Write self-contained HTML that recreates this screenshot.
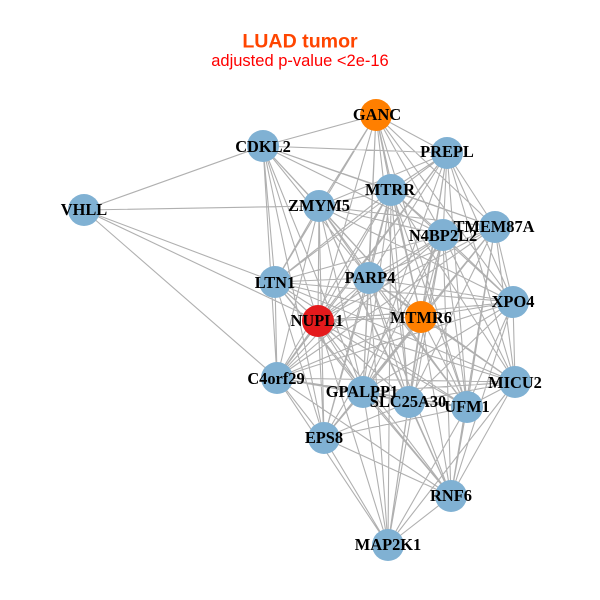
<!DOCTYPE html>
<html><head><meta charset="utf-8"><title>LUAD tumor</title>
<style>html,body{margin:0;padding:0;background:#fff}svg{display:block}
.l{font:bold 16.4px "Liberation Serif",serif;text-anchor:middle;fill:#000}
</style></head><body>
<svg width="600" height="600" viewBox="0 0 600 600" xmlns="http://www.w3.org/2000/svg">
<rect width="600" height="600" fill="#fff"/>
<path fill="none" stroke="#b0b0b0" stroke-width="1.1" d="
M84 210L263 146M84 210L319 206M84 210L275 282M84 210L318 321M84 210L277 378
M376 115L263 146M376 115L447 153M376 115L319 206M376 115L391 190M376 115L443 235M376 115L495 227M376 115L275 282M376 115L369 278M376 115L421 317M376 115L318 321M376 115L409 402M376 115L363 392M376 115L467 407M376 115L513 302
M263 146L447 153M263 146L391 190M263 146L319 206M263 146L495 227M263 146L443 235M263 146L275 282M263 146L318 321M263 146L277 378M263 146L369 278M263 146L363 392M263 146L324 438M263 146L421 317
M447 153L391 190M447 153L319 206M447 153L443 235M447 153L495 227M447 153L513 302M447 153L369 278M447 153L275 282M447 153L318 321M447 153L421 317M447 153L363 392M447 153L409 402M447 153L467 407M447 153L515 382M447 153L277 378
M391 190L319 206M391 190L495 227M391 190L443 235M391 190L275 282M391 190L369 278M391 190L318 321M391 190L421 317M391 190L513 302M391 190L277 378M391 190L363 392M391 190L409 402M391 190L467 407M391 190L515 382M391 190L324 438M391 190L388 545
M319 206L443 235M319 206L495 227M319 206L275 282M319 206L369 278M319 206L318 321M319 206L421 317M319 206L513 302M319 206L277 378M319 206L363 392M319 206L409 402M319 206L467 407M319 206L324 438M319 206L451 496
M495 227L443 235M495 227L369 278M495 227L513 302M495 227L421 317M495 227L318 321M495 227L515 382M495 227L467 407M495 227L409 402M495 227L363 392M495 227L277 378M495 227L451 496
M443 235L369 278M443 235L275 282M443 235L513 302M443 235L421 317M443 235L318 321M443 235L515 382M443 235L277 378M443 235L363 392M443 235L409 402M443 235L467 407M443 235L324 438M443 235L451 496M443 235L388 545
M275 282L369 278M275 282L318 321M275 282L513 302M275 282L421 317M275 282L277 378M275 282L363 392M275 282L324 438M275 282L409 402M275 282L467 407M275 282L515 382M275 282L451 496
M369 278L318 321M369 278L421 317M369 278L513 302M369 278L277 378M369 278L515 382M369 278L363 392M369 278L409 402M369 278L467 407M369 278L324 438M369 278L451 496M369 278L388 545
M513 302L421 317M513 302L318 321M513 302L515 382M513 302L467 407M513 302L409 402M513 302L363 392M513 302L277 378M513 302L451 496
M421 317L318 321M421 317L277 378M421 317L515 382M421 317L363 392M421 317L409 402M421 317L467 407M421 317L324 438M421 317L451 496M421 317L388 545
M318 321L277 378M318 321L363 392M318 321L409 402M318 321L467 407M318 321L324 438M318 321L515 382M318 321L451 496M318 321L388 545
M277 378L363 392M277 378L409 402M277 378L467 407M277 378L515 382M277 378L324 438M277 378L388 545M277 378L451 496
M515 382L363 392M515 382L409 402M515 382L467 407M515 382L451 496M515 382L388 545
M363 392L409 402M363 392L324 438M363 392L451 496M363 392L388 545M363 392L467 407
M409 402L467 407M409 402L324 438M409 402L451 496M409 402L388 545
M467 407L324 438M467 407L451 496M467 407L388 545
M324 438L451 496M324 438L388 545
M451 496L388 545"/>
<g fill="#80b1d3">
<circle cx="263" cy="146" r="16"/><circle cx="447" cy="153" r="16"/><circle cx="391" cy="190" r="16"/><circle cx="319" cy="206" r="16"/><circle cx="84" cy="210" r="16"/><circle cx="495" cy="227" r="16"/><circle cx="443" cy="235" r="16"/><circle cx="275" cy="282" r="16"/><circle cx="369" cy="278" r="16"/><circle cx="513" cy="302" r="16"/><circle cx="277" cy="378" r="16"/><circle cx="515" cy="382" r="16"/><circle cx="363" cy="392" r="16"/><circle cx="409" cy="402" r="16"/><circle cx="467" cy="407" r="16"/><circle cx="324" cy="438" r="16"/><circle cx="451" cy="496" r="16"/><circle cx="388" cy="545" r="16"/>
</g>
<circle cx="376" cy="115" r="16" fill="#ff7f00"/>
<circle cx="421" cy="317" r="16" fill="#ff7f00"/>
<circle cx="318" cy="321" r="16" fill="#e41a1c"/>
<g class="l">
<text class="l" x="377" y="120">GANC</text>
<text class="l" x="263" y="152">CDKL2</text>
<text class="l" x="447" y="157">PREPL</text>
<text class="l" x="390" y="195">MTRR</text>
<text class="l" x="319" y="211">ZMYM5</text>
<text class="l" x="84" y="215">VHLL</text>
<text class="l" x="494" y="232">TMEM87A</text>
<text class="l" x="443" y="241">N4BP2L2</text>
<text class="l" x="275" y="288">LTN1</text>
<text class="l" x="370" y="283">PARP4</text>
<text class="l" x="513" y="307">XPO4</text>
<text class="l" x="421" y="323">MTMR6</text>
<text class="l" x="317" y="326">NUPL1</text>
<text class="l" x="276" y="384">C4orf29</text>
<text class="l" x="515" y="388">MICU2</text>
<text class="l" x="362" y="397">GPALPP1</text>
<text class="l" x="408" y="407">SLC25A30</text>
<text class="l" x="467" y="412">UFM1</text>
<text class="l" x="324" y="443">EPS8</text>
<text class="l" x="451" y="501">RNF6</text>
<text class="l" x="388" y="550">MAP2K1</text>
</g>
<text x="300" y="47.5" text-anchor="middle" style="font:bold 19.6px 'Liberation Sans',sans-serif" fill="#ff4500">LUAD tumor</text>
<text x="300" y="66" text-anchor="middle" style="font:16.5px 'Liberation Sans',sans-serif" fill="#ff0000">adjusted p-value &lt;2e-16</text>
</svg>
</body></html>
